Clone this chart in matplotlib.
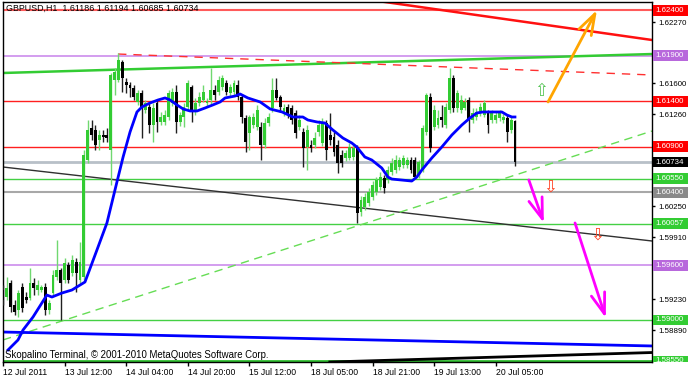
import matplotlib
matplotlib.use('Agg')
import matplotlib.pyplot as plt
from matplotlib.patches import Rectangle, FancyArrowPatch
from matplotlib.transforms import blended_transform_factory, Bbox

plt.rcParams['font.family'] = ['Liberation Sans', 'DejaVu Sans']

# ---------------- data ----------------
opens = [1.5933, 1.5925, 1.5941, 1.5917, 1.5911, 1.5936, 1.5925, 1.5924, 1.5941, 1.5933,
         1.5933, 1.5936, 1.5911, 1.5930, 1.5947, 1.5955, 1.5944, 1.5960, 1.5952, 1.5964,
         1.5944, 1.5947, 1.6076, 1.6111, 1.6109, 1.6098, 1.6103, 1.6103, 1.6087, 1.6163,
         1.6163, 1.6183, 1.6161, 1.6158, 1.6155, 1.6139, 1.6149, 1.6130, 1.6134, 1.6114,
         1.6138, 1.6117, 1.6117, 1.6123, 1.6138, 1.6150, 1.6117, 1.6123, 1.6134, 1.6156,
         1.6128, 1.6138, 1.6141, 1.6138, 1.6141, 1.6152, 1.6150, 1.6156, 1.6160, 1.6149,
         1.6150, 1.6158, 1.6145, 1.6122, 1.6105, 1.6114, 1.6112, 1.6112, 1.6092, 1.6116,
         1.6133, 1.6152, 1.6145, 1.6127, 1.6134, 1.6133, 1.6127, 1.6112, 1.6106, 1.6090,
         1.6092, 1.6092, 1.6106, 1.6094, 1.6116, 1.6103, 1.6101, 1.6092, 1.6081, 1.6078,
         1.6078, 1.6079, 1.6090, 1.6019, 1.6024, 1.6028, 1.6035, 1.6040, 1.6046, 1.6056,
         1.6054, 1.6062, 1.6065, 1.6068, 1.6070, 1.6070, 1.6076, 1.6076, 1.6059, 1.6065,
         1.6106, 1.6145, 1.6112, 1.6114, 1.6123, 1.6114, 1.6130, 1.6166, 1.6133, 1.6130,
         1.6133, 1.6141, 1.6119, 1.6123, 1.6127, 1.6125, 1.6127, 1.6119, 1.6119, 1.6122,
         1.6119, 1.6122, 1.6109, 1.61186]
highs = [1.5938, 1.5947, 1.5944, 1.5922, 1.5933, 1.5941, 1.5931, 1.5957, 1.5946, 1.5944,
         1.5938, 1.5941, 1.5922, 1.5955, 1.5988, 1.5957, 1.5968, 1.5964, 1.5971, 1.5968,
         1.5986, 1.6087, 1.6119, 1.6119, 1.6114, 1.6109, 1.6109, 1.6111, 1.6171, 1.6177,
         1.6193, 1.6185, 1.6166, 1.6161, 1.6158, 1.6152, 1.6152, 1.6141, 1.6138, 1.6138,
         1.6141, 1.6128, 1.6130, 1.6152, 1.6155, 1.6158, 1.6128, 1.6138, 1.6163, 1.6158,
         1.6144, 1.6150, 1.6158, 1.6144, 1.6177, 1.6158, 1.6168, 1.6169, 1.6163, 1.6159,
         1.6163, 1.6163, 1.6147, 1.6125, 1.6125, 1.6127, 1.6136, 1.6117, 1.6122, 1.6127,
         1.6166, 1.6166, 1.6147, 1.6137, 1.6137, 1.6136, 1.6130, 1.6125, 1.6111, 1.6114,
         1.6098, 1.6106, 1.6119, 1.6122, 1.6119, 1.6127, 1.6106, 1.6098, 1.6087, 1.6087,
         1.6094, 1.6092, 1.6092, 1.6036, 1.6039, 1.6045, 1.6052, 1.6057, 1.6062, 1.6059,
         1.6069, 1.6078, 1.6081, 1.6079, 1.6081, 1.6079, 1.6079, 1.6079, 1.6076, 1.6114,
         1.6149, 1.6149, 1.6136, 1.6130, 1.6136, 1.6138, 1.6177, 1.6169, 1.6152, 1.6147,
         1.6144, 1.6145, 1.6133, 1.6133, 1.6138, 1.6141, 1.6130, 1.6130, 1.6128, 1.6130,
         1.6126, 1.6125, 1.6123, 1.61194]
lows = [1.5917, 1.5922, 1.5909, 1.5906, 1.5903, 1.5909, 1.5919, 1.5922, 1.5927, 1.5927,
        1.5931, 1.5906, 1.5907, 1.5926, 1.5944, 1.5900, 1.5941, 1.5941, 1.5948, 1.5931,
        1.5941, 1.5944, 1.6072, 1.6098, 1.6087, 1.6087, 1.6095, 1.6095, 1.6048, 1.6147,
        1.6161, 1.6150, 1.6149, 1.6145, 1.6141, 1.6136, 1.6100, 1.6127, 1.6105, 1.6095,
        1.6106, 1.6114, 1.6114, 1.6119, 1.6135, 1.6105, 1.6113, 1.6112, 1.6130, 1.6117,
        1.6125, 1.6135, 1.6139, 1.6135, 1.6137, 1.6141, 1.6147, 1.6152, 1.6147, 1.6146,
        1.6147, 1.6141, 1.6116, 1.6084, 1.6087, 1.6111, 1.6109, 1.6076, 1.6089, 1.6113,
        1.6128, 1.6141, 1.6128, 1.6124, 1.6122, 1.6115, 1.6100, 1.6109, 1.6068, 1.6065,
        1.6084, 1.6089, 1.6102, 1.6091, 1.6076, 1.6092, 1.6080, 1.6061, 1.6068, 1.6074,
        1.6076, 1.6076, 1.6006, 1.6014, 1.6021, 1.6025, 1.6032, 1.6037, 1.6043, 1.6039,
        1.6050, 1.6059, 1.6061, 1.6065, 1.6067, 1.6067, 1.6061, 1.6056, 1.6056, 1.6062,
        1.6103, 1.6084, 1.6109, 1.6111, 1.6112, 1.6111, 1.6127, 1.6128, 1.6128, 1.6127,
        1.6130, 1.6106, 1.6116, 1.6119, 1.6124, 1.6123, 1.6105, 1.6116, 1.6116, 1.6118,
        1.6116, 1.6095, 1.6105, 1.60685]
closes = [1.5922, 1.5935, 1.5914, 1.5909, 1.5930, 1.5913, 1.5922, 1.5941, 1.5935, 1.5938,
          1.5936, 1.5911, 1.5919, 1.5949, 1.5955, 1.5941, 1.5963, 1.5944, 1.5966, 1.5952,
          1.5964, 1.6081, 1.6109, 1.6103, 1.6092, 1.6103, 1.6101, 1.6100, 1.6169, 1.6172,
          1.6185, 1.6166, 1.6158, 1.6155, 1.6145, 1.6149, 1.6133, 1.6138, 1.6114, 1.6133,
          1.6117, 1.6123, 1.6125, 1.6149, 1.6150, 1.6117, 1.6125, 1.6134, 1.6160, 1.6128,
          1.6138, 1.6145, 1.6150, 1.6140, 1.6152, 1.6147, 1.6163, 1.6166, 1.6150, 1.6156,
          1.6160, 1.6145, 1.6123, 1.6095, 1.6123, 1.6123, 1.6130, 1.6092, 1.6116, 1.6123,
          1.6152, 1.6144, 1.6134, 1.6133, 1.6125, 1.6119, 1.6105, 1.6119, 1.6089, 1.6109,
          1.6089, 1.6100, 1.6114, 1.6116, 1.6087, 1.6098, 1.6084, 1.6072, 1.6072, 1.6083,
          1.6090, 1.6089, 1.6017, 1.6032, 1.6035, 1.6040, 1.6048, 1.6054, 1.6057, 1.6045,
          1.6065, 1.6072, 1.6076, 1.6076, 1.6078, 1.6076, 1.6065, 1.6057, 1.6073, 1.6111,
          1.6147, 1.6089, 1.6130, 1.6122, 1.6119, 1.6134, 1.6166, 1.6133, 1.6149, 1.6141,
          1.6139, 1.6119, 1.6127, 1.6128, 1.6134, 1.6138, 1.6114, 1.6127, 1.6125, 1.6127,
          1.6123, 1.6106, 1.6119, 1.60734]

# moving average (blue) read at bar positions
ma_x = [1.3, 3.9, 5.2, 7.8, 10.1, 11.4, 12.7, 15.3, 17.9, 21.3, 24.4, 27.0, 29.6, 31.2,
        33.0, 34.8, 36.1, 38.2, 40.3, 42.1, 43.4, 45.2, 46.8, 48.6, 50.4, 52.5, 54.5,
        56.4, 57.7, 60.3, 61.6, 63.6, 66.8, 69.4, 72.5, 75.3, 77.9, 79.2, 81.6, 83.6,
        85.7, 88.3, 90.6, 91.9, 94.0, 95.8, 98.4, 100.0, 101.0, 103.6, 106.2, 107.5,
        108.8, 111.4, 114.0, 116.6, 119.2, 121.3, 123.1, 124.7, 127.0, 129.6, 130.9,
        132.2, 133.0]
ma_y = [1.58671, 1.58781, 1.58890, 1.59033, 1.59187, 1.59274, 1.59252, 1.59296, 1.59329,
        1.59417, 1.59768, 1.60065, 1.60515, 1.60789, 1.61063, 1.61283, 1.61338, 1.61382,
        1.61415, 1.61437, 1.61415, 1.61360, 1.61316, 1.61294, 1.61294, 1.61327, 1.61360,
        1.61393, 1.61437, 1.61458, 1.61480, 1.61437, 1.61393, 1.61316, 1.61283, 1.61228,
        1.61228, 1.61195, 1.61173, 1.61162, 1.61085, 1.60997, 1.60943, 1.60899, 1.60789,
        1.60756, 1.60668, 1.60569, 1.60547, 1.60536, 1.60525, 1.60569, 1.60646, 1.60778,
        1.60899, 1.61030, 1.61140, 1.61217, 1.61272, 1.61283, 1.61283, 1.61283, 1.61250,
        1.61228, 1.61228]

# horizontal levels
level_prices = [1.6240, 1.6190, 1.6140, 1.6090, 1.60734, 1.6055, 1.6040, 1.60057, 1.5960, 1.5900, 1.5855]
level_texts = ['1.62400', '1.61900', '1.61400', '1.60900', '1.60734', '1.60550', '1.60400',
               '1.60057', '1.59600', '1.59000', '1.58550']
level_line_colors = ['#ff5a5a', '#cc8cec', '#ff2020', '#ff2020', '#b8c0c8', '#44d044', '#a8a8a8',
                     '#44d044', '#cc8cec', '#44d044', '#2ebd2e']
level_box_colors = ['#ff0000', '#b868dc', '#ff0000', '#ff0000', '#000000', '#33cc33', '#8a8a8a',
                    '#33cc33', '#b868dc', '#33cc33', '#33cc33']
level_widths = [1.5, 1.2, 1.0, 1.0, 2.0, 1.0, 1.5, 1.0, 1.2, 1.0, 2.0]

# price axis ticks
price_ticks = [1.62270, 1.61600, 1.61260, 1.60250, 1.59910, 1.59230, 1.58890]
# time axis
time_ticks = [0, 16, 32, 48, 64, 80, 96, 112, 128]
time_labels = ['12 Jul 2011', '13 Jul 12:00', '14 Jul 04:00', '14 Jul 20:00', '15 Jul 12:00',
               '18 Jul 05:00', '18 Jul 21:00', '19 Jul 13:00', '20 Jul 05:00']

# trend lines: [x0, y0, x1, y1]
trend_black = [0.0, 1.60679, 168.6, 1.59867]
trend_green_dash = [0.0, 1.58781, 168.6, 1.61074]
trend_green_top = [0.0, 1.61711, 168.6, 1.61919]
trend_red = [97.4, 1.62501, 168.6, 1.62073]
trend_red_dash = [29.9, 1.61919, 168.6, 1.61689]
trend_blue_low = [0.0, 1.58868, 168.6, 1.58715]
trend_black_low = [84.9, 1.58539, 168.6, 1.58643]

# arrows [start x, start y, tip x, tip y]
arrow_orange = [141.6, 1.61393, 154.3, 1.62402]
arrow_mag1 = [136.6, 1.60537, 140.5, 1.60065]
arrow_mag2 = [148.6, 1.60065, 156.6, 1.59022]
sym_up = [139.7, 1.61513]
sym_down = [[142.1, 1.60460], [154.3, 1.59933]]

XMIN, XMAX = 0.0, 168.6
YMIN, YMAX = 1.58539, 1.62490

# ---------------- figure ----------------
W, H = 688, 379
fig = plt.figure(figsize=(W / 100, H / 100), dpi=100)
ax = fig.add_axes([3 / W, 1 - 362 / H, 649 / W, 360 / H])
ax.set_xlim(XMIN, XMAX)
ax.set_ylim(YMIN, YMAX)
ax.set_facecolor('white')

# levels
for p, c, w in zip(level_prices, level_line_colors, level_widths):
    ax.axhline(p, color=c, lw=w, zorder=1)

def seg(t, color, lw, ls='-', z=2):
    ax.plot([t[0], t[2]], [t[1], t[3]], color=color, lw=lw, ls=ls, zorder=z)

seg(trend_black, '#303030', 1.0)
seg(trend_green_dash, '#66dd55', 1.0, (0, (6, 4)))
seg(trend_green_top, '#33cc33', 1.8)
seg(trend_red, '#ff1010', 1.8)
seg(trend_red_dash, '#ff3030', 1.0, (0, (6, 5)))
seg(trend_blue_low, '#0000ff', 2.0)
seg(trend_black_low, '#000000', 2.0)

# candles
for i, (o, h, l, c) in enumerate(zip(opens, highs, lows, closes)):
    bull = c >= o
    wick = '#70d870' if bull else '#202020'
    body = '#33cc33' if bull else '#000000'
    ax.vlines(i, l, h, color=wick, lw=1.0, zorder=3)
    ax.bar(i, max(abs(c - o), 0.00005), bottom=min(o, c), width=0.75,
           color=body, linewidth=0, zorder=4)

# moving average
ax.plot(ma_x, ma_y, color='#0000ff', lw=2.0, zorder=5, solid_joinstyle='round')

# arrows
def arrow(t, color):
    a = FancyArrowPatch((t[0], t[1]), (t[2], t[3]),
                        arrowstyle='->,head_length=15,head_width=5',
                        mutation_scale=1, lw=2, color=color,
                        shrinkA=0, shrinkB=0, zorder=6)
    ax.add_patch(a)

arrow(arrow_orange, '#ffa500')
arrow(arrow_mag1, '#ff00ff')
arrow(arrow_mag2, '#ff00ff')

ax.text(sym_up[0], sym_up[1], '\u21e7', color='#55c455', fontsize=12,
        ha='center', va='center', family=['DejaVu Sans'], zorder=6)
for sx, sy in sym_down:
    ax.text(sx, sy, '\u21e9', color='#ff4020', fontsize=12,
            ha='center', va='center', family=['DejaVu Sans'], zorder=6)

# axes styling
for s in ax.spines.values():
    s.set_color('black')
    s.set_linewidth(1)
ax.yaxis.tick_right()
ax.set_yticks(price_ticks)
ax.set_yticklabels(['%.5f' % v for v in price_ticks])
ax.tick_params(axis='y', length=2.5, width=1, pad=2.0, labelsize=5.7, direction='out')
ax.set_xticks(time_ticks)
ax.set_xticklabels(time_labels, ha='left')
ax.tick_params(axis='x', length=3, width=1, pad=1.5, labelsize=6.2, direction='out')

# price label boxes
blend = blended_transform_factory(fig.transFigure, ax.transData)
clip = Bbox([[652, H - 362], [W, H]])
half = 0.00060
for p, t, bc in zip(level_prices, level_texts, level_box_colors):
    r = Rectangle((653 / W, p - half), 35 / W, 2 * half, transform=blend,
                  facecolor=bc, edgecolor='none', zorder=5)
    fig.add_artist(r)
    r.set_clip_box(clip)
    tx = fig.text(655.5 / W, p, t, transform=blend, color='white', fontsize=5.7,
                  va='center', ha='left', zorder=6)
    tx.set_clip_box(clip)
    tx.set_clip_on(True)

# texts
fig.text(6 / W, 1 - 8.5 / H, 'GBPUSD,H1  1.61186 1.61194 1.60685 1.60734',
         fontsize=6.4, color='black', va='center', ha='left')
fig.text(5 / W, 1 - 355 / H,
         'Skopalino Terminal, \u00a9 2001-2010 MetaQuotes Software Corp.',
         fontsize=6.9, color='black', va='center', ha='left')

fig.savefig('out.png', dpi=100, facecolor='white')
